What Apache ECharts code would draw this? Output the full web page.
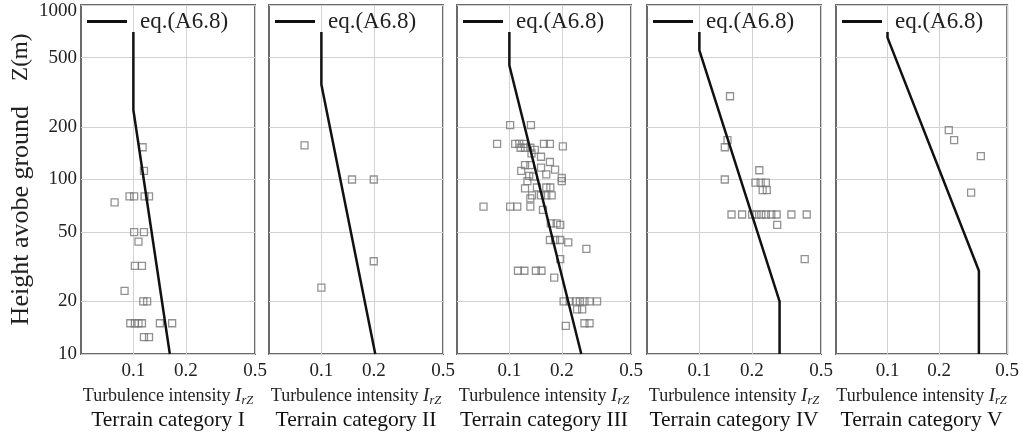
<!DOCTYPE html>
<html>
<head>
<meta charset="utf-8">
<title>Turbulence intensity profiles</title>
<script src="https://cdn.jsdelivr.net/npm/echarts@6/dist/echarts.min.js"></script>
<style>
  html, body { margin: 0; padding: 0; background: #fff; }
  #chart { width: 1022px; height: 440px; }
</style>
</head>
<body>
<div id="chart"></div>
<script>
const categories = ['I', 'II', 'III', 'IV', 'V']
const xTicks = [0.1, 0.2, 0.5]
const yTicks = [10, 20, 50, 100, 200, 500, 1000]

// eq.(A6.8) profile vertices, [I_rZ, Z]
const eqI = [[0.1, 700], [0.1, 250], [0.162, 10]]
const eqII = [[0.1, 700], [0.1, 350], [0.204, 10]]
const eqIII = [[0.1, 700], [0.1, 450], [0.259, 10]]
const eqIV = [[0.1, 700], [0.1, 550], [0.289, 20], [0.289, 10]]
const eqV = [[0.1, 700], [0.1, 650], [0.342, 30], [0.342, 10]]

// measured points, [I_rZ, Z]
const obsI = [
  [0.113, 153], [0.115, 112], [0.095, 80], [0.101, 80], [0.116, 80], [0.123, 80],
  [0.078, 74], [0.101, 50], [0.115, 50], [0.107, 44], [0.102, 32], [0.112, 32],
  [0.089, 23], [0.114, 20], [0.120, 20], [0.096, 15], [0.102, 15], [0.107, 15],
  [0.112, 15], [0.142, 15], [0.167, 15], [0.115, 12.5], [0.123, 12.5]
]
const obsII = [[0.080, 157], [0.15, 100], [0.2, 100], [0.2, 34], [0.1, 24]]
const obsIII = [
  [0.101, 205], [0.133, 205],
  [0.085, 160], [0.108, 160], [0.114, 160], [0.121, 160], [0.158, 160], [0.171, 160], [0.203, 155],
  [0.116, 152], [0.123, 152], [0.132, 152], [0.140, 148],
  [0.134, 141], [0.152, 135], [0.171, 126], [0.123, 121], [0.132, 121], [0.152, 117],
  [0.117, 112], [0.183, 114], [0.130, 105], [0.163, 107], [0.137, 104], [0.2, 102], [0.2, 98],
  [0.127, 98], [0.144, 90], [0.163, 90], [0.172, 90], [0.123, 89],
  [0.135, 81], [0.132, 78], [0.152, 81], [0.163, 81], [0.175, 81],
  [0.071, 70], [0.101, 70], [0.111, 70], [0.132, 70], [0.156, 67],
  [0.173, 56], [0.187, 56], [0.196, 55],
  [0.171, 45], [0.183, 45], [0.196, 45], [0.218, 43.6],
  [0.277, 40], [0.196, 35],
  [0.112, 30], [0.122, 30], [0.142, 30], [0.153, 30], [0.181, 27.4],
  [0.205, 20], [0.222, 20], [0.241, 20], [0.254, 20], [0.270, 20], [0.289, 20], [0.319, 20],
  [0.245, 18], [0.262, 18],
  [0.211, 14.5], [0.270, 15], [0.289, 15]
]
const obsIV = [
  [0.150, 300], [0.145, 168], [0.140, 153], [0.221, 113], [0.140, 100],
  [0.210, 96], [0.225, 96], [0.241, 96], [0.231, 87], [0.244, 87],
  [0.153, 63], [0.176, 63], [0.201, 63], [0.213, 63], [0.227, 63], [0.241, 63],
  [0.259, 63], [0.278, 63], [0.338, 63], [0.414, 63], [0.280, 55], [0.403, 35]
]
const obsV = [[0.228, 192], [0.245, 168], [0.351, 136], [0.308, 84]]

const eqLines = [eqI, eqII, eqIII, eqIV, eqV]
const observed = [obsI, obsII, obsIII, obsIV, obsV]

const serif = '"Liberation Serif", "Times New Roman", serif'
const lefts = [81, 269, 457, 647, 836]
const LEGEND = 'eq.(A6.8)'

const grid = []
const xAxis = []
const yAxis = []
const series = []
const legend = []

categories.forEach((cat, i) => {
  grid.push({
    left: lefts[i], top: 5, width: 174, height: 349,
    show: true, borderColor: '#6a6a6a', borderWidth: 2
  })
  xAxis.push({
    gridIndex: i, type: 'log', logBase: 10, min: 0.05, max: 0.5,
    axisLine: { show: false },
    axisTick: { show: false, customValues: xTicks },
    axisLabel: { customValues: xTicks, margin: 8, fontFamily: serif, fontSize: 19, color: '#222' },
    splitLine: { show: true, lineStyle: { color: '#d2d2d2', width: 1 } },
    name: '{a|Turbulence intensity }{i|I}{s|rZ}\n{b|Terrain category ' + cat + '}',
    nameLocation: 'middle',
    nameGap: 31,
    nameTextStyle: {
      rich: {
        a: { fontFamily: serif, fontSize: 18, color: '#222', lineHeight: 22, align: 'center' },
        i: { fontFamily: serif, fontSize: 19, fontStyle: 'italic', color: '#222', lineHeight: 22, align: 'center' },
        s: { fontFamily: serif, fontSize: 12.5, fontStyle: 'italic', color: '#222', lineHeight: 14, verticalAlign: 'bottom', align: 'center' },
        b: { fontFamily: serif, fontSize: 21.5, color: '#111', lineHeight: 26, align: 'center' }
      }
    }
  })
  yAxis.push({
    gridIndex: i, type: 'log', logBase: 10, min: 10, max: 1000,
    axisLine: { show: false },
    axisTick: { show: false, customValues: yTicks },
    axisLabel: {
      show: i === 0, customValues: yTicks, margin: 4,
      fontFamily: serif, fontSize: 19, color: '#222',
      formatter: v => (v >= 999 ? '{t|1000}' : String(Math.round(v))),
      rich: { t: { fontFamily: serif, fontSize: 19, color: '#222', padding: [12, 0, 0, 0] } }
    },
    splitLine: { show: true, lineStyle: { color: '#d2d2d2', width: 1 } },
    name: i === 0 ? '{a|Height avobe ground}{b|Z(m)}' : '',
    nameLocation: 'middle',
    nameRotate: 90,
    nameGap: 47,
    nameTextStyle: {
      rich: {
        a: { fontFamily: serif, fontSize: 26, color: '#222' },
        b: { fontFamily: serif, fontSize: 23, color: '#222', padding: [0, 0, 0, 25] }
      }
    }
  })
  series.push({
    type: 'scatter', xAxisIndex: i, yAxisIndex: i,
    data: observed[i],
    symbol: 'rect', symbolSize: 7,
    itemStyle: { color: 'rgba(255,255,255,0)', borderColor: '#777', borderWidth: 1.3 },
    z: 2
  })
  series.push({
    type: 'line', name: LEGEND, xAxisIndex: i, yAxisIndex: i,
    data: eqLines[i],
    symbol: 'none',
    color: '#111',
    lineStyle: { color: '#111', width: 2.5 },
    z: 3
  })
  legend.push({
    left: lefts[i] + 6, top: 10, padding: 0,
    data: [{ name: LEGEND, icon: 'rect' }],
    selectedMode: false,
    itemWidth: 40, itemHeight: 3,
    itemStyle: { color: '#111' },
    textStyle: { fontFamily: serif, fontSize: 23, color: '#222', padding: [0, 0, 0, 8] }
  })
})

const chart = echarts.init(document.getElementById('chart'))
chart.setOption({
  animation: false,
  backgroundColor: '#fff',
  grid, xAxis, yAxis, series, legend
})
</script>
</body>
</html>
